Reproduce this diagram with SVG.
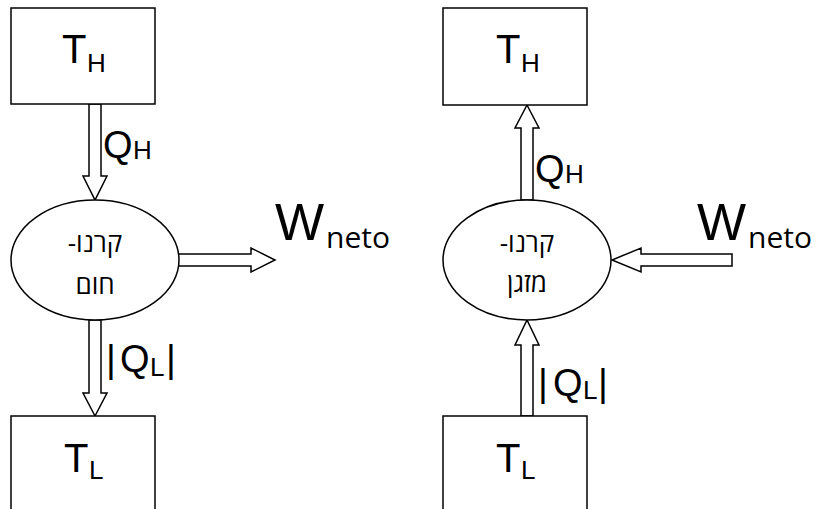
<svg xmlns="http://www.w3.org/2000/svg" width="840" height="509" viewBox="0 0 840 509">
<style>
.box{fill:#fff;stroke:#000;stroke-width:1.5}
.ell{fill:#fff;stroke:#000;stroke-width:1.5}
.arr{fill:#fff;stroke:#000;stroke-width:1.5;stroke-linejoin:miter}
.big{font-family:"Liberation Sans",Arial,sans-serif;font-size:40px;fill:#000}
.sub{font-family:"Liberation Sans",Arial,sans-serif;font-size:26px;fill:#000}
.q{font-family:"Liberation Sans",Arial,sans-serif;font-size:38px;fill:#000}
.w{font-family:"Liberation Sans",Arial,sans-serif;font-size:52px;fill:#000}
.neto{font-family:"Open Sans","Liberation Sans",sans-serif;font-size:30px;fill:#000}
.heb{font-family:"Open Sans","DejaVu Sans",sans-serif;font-size:26px;fill:#000;text-anchor:middle}
</style>
<rect width="840" height="509" fill="#fff"/>
<g id="connectors">
  <polygon class="arr" points="89,104 101,104 101,176 107,176 95,200 83,176 89,176"/>
  <polygon class="arr" points="89,320 101,320 101,393 107,393 95,416 83,393 89,393"/>
  <polygon class="arr" points="178,254 251,254 251,248 275,260 251,272 251,266 178,266"/>
  <polygon class="arr" points="521,200 533,200 533,128 539,128 527,105 515,128 521,128"/>
  <polygon class="arr" points="521,416 533,416 533,345 539,345 527,320 515,345 521,345"/>
  <polygon class="arr" points="732,254 641,254 641,248 612,260 641,272 641,266 732,266"/>
</g>
<g id="left-TH">
  <rect class="box" x="11" y="8" width="144" height="96"/>
  <text class="big" x="62" y="63">T</text><text class="sub" x="87" y="72">H</text>
</g>
<g id="left-TL">
  <rect class="box" x="11" y="416" width="144" height="110"/>
  <text class="big" x="64" y="472">T</text><text class="sub" x="89" y="479">L</text>
</g>
<g id="left-engine">
  <ellipse class="ell" cx="95" cy="260" rx="84" ry="60"/>
  <text class="heb" x="95" y="252" direction="rtl">קרנו-</text>
  <text class="heb" x="95" y="294" direction="rtl">חום</text>
</g>
<g id="left-labels">
  <text class="q" x="103" y="158">Q</text><text class="sub" x="133" y="159">H</text>
  <text class="q" x="106" y="372">|</text><text class="q" x="120" y="372">Q</text><text class="sub" x="150" y="376">L</text><text class="q" x="166" y="372">|</text>
  <text class="w" x="275" y="240">W</text><text class="neto" x="326" y="248">neto</text>
</g>
<g id="right-TH">
  <rect class="box" x="443" y="8" width="144" height="97"/>
  <text class="big" x="496" y="63">T</text><text class="sub" x="521" y="72">H</text>
</g>
<g id="right-TL">
  <rect class="box" x="443" y="416" width="144" height="110"/>
  <text class="big" x="496" y="472">T</text><text class="sub" x="521" y="479">L</text>
</g>
<g id="right-engine">
  <ellipse class="ell" cx="527" cy="260" rx="84" ry="60"/>
  <text class="heb" x="527" y="252" direction="rtl">קרנו-</text>
  <text class="heb" x="527" y="292" direction="rtl">מזגן</text>
</g>
<g id="right-labels">
  <text class="q" x="535" y="182">Q</text><text class="sub" x="565" y="183">H</text>
  <text class="q" x="538" y="396">|</text><text class="q" x="553" y="396">Q</text><text class="sub" x="583" y="399">L</text><text class="q" x="598" y="396">|</text>
  <text class="w" x="697" y="240">W</text><text class="neto" x="748" y="248">neto</text>
</g>
</svg>
